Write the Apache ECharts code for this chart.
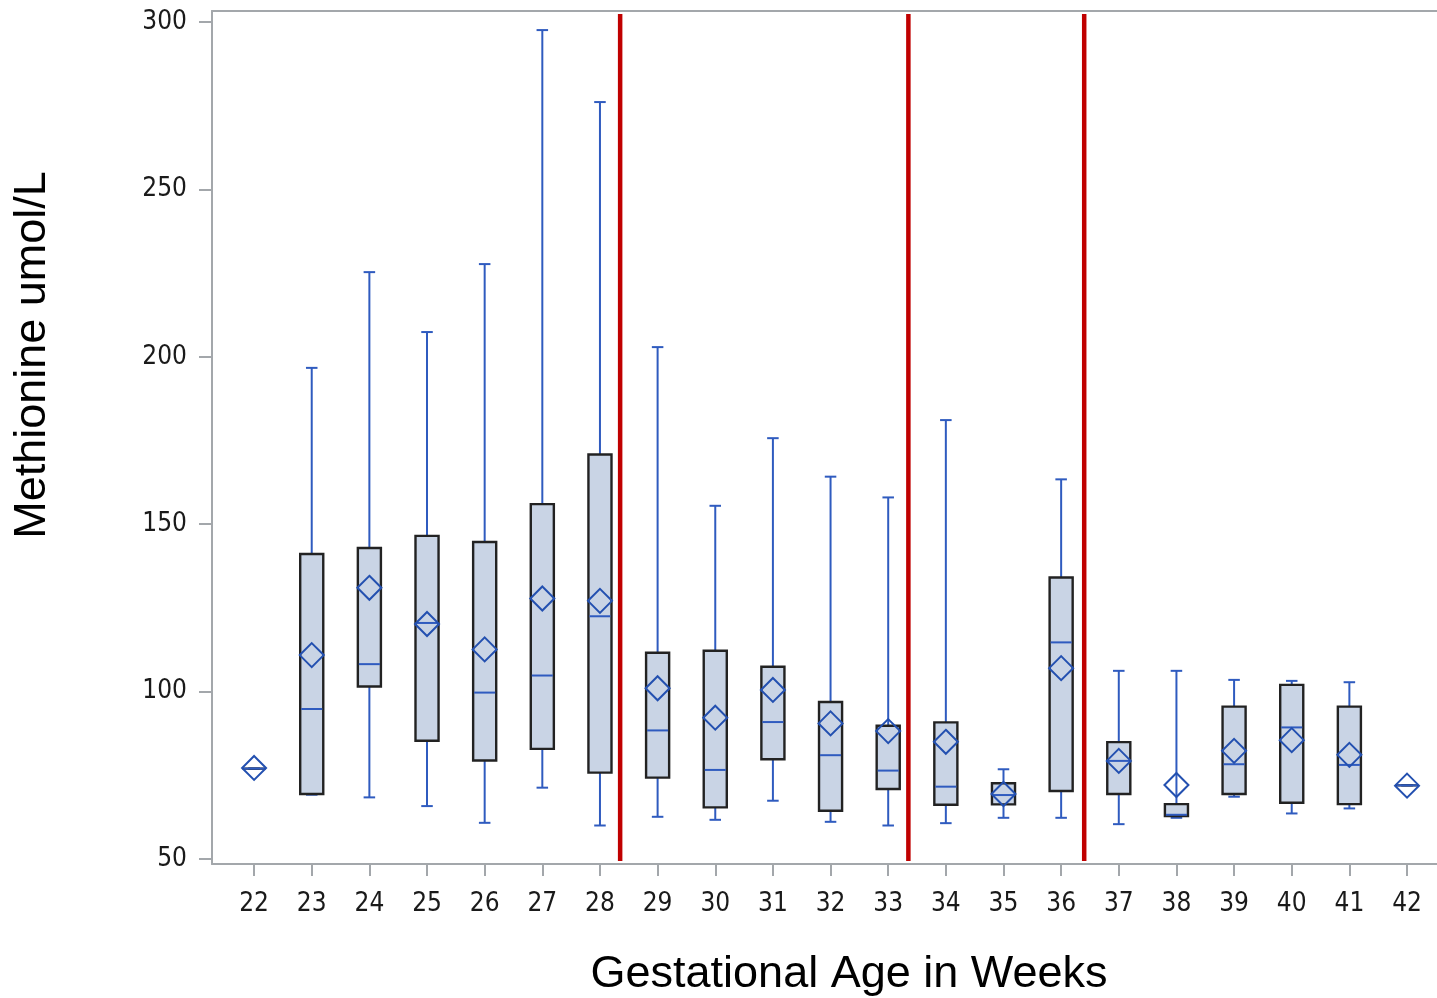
<!DOCTYPE html>
<html>
<head>
<meta charset="utf-8">
<script src="https://cdn.jsdelivr.net/npm/echarts@6/dist/echarts.min.js"></script>
<style>
html,body{margin:0;padding:0;background:#fff;}
#chart{width:1437px;height:998px;}
</style>
</head>
<body>
<div id="chart"></div>
<script>
const weeks       = [22, 23, 24, 25, 26, 27, 28, 29, 30, 31, 32, 33, 34, 35, 36, 37, 38, 39, 40, 41, 42];
const whiskerLow  = [77, 69.2, 68.4, 65.8, 60.8, 71.3, 60, 62.6, 61.7, 67.4, 61.1, 60, 60.7, 62.3, 62.3, 60.4, 62.3, 68.6, 63.6, 65.1, 72];
const q1          = [77, 69.4, 101.5, 85.3, 79.4, 82.9, 75.8, 74.3, 65.4, 79.8, 64.4, 70.9, 66.2, 66.3, 70.3, 69.4, 62.8, 69.4, 66.8, 66.4, 72];
const median      = [77, 94.8, 108.2, 120.5, 99.7, 104.8, 122.5, 88.4, 76.6, 90.9, 81, 76.4, 71.6, 69.1, 114.7, 79.3, 63.2, 78.3, 89.3, 78.1, 72];
const q3          = [77, 141.1, 142.9, 146.5, 144.7, 156, 170.8, 111.6, 112.2, 107.4, 96.9, 89.8, 90.8, 72.6, 134.1, 84.9, 66.4, 95.5, 102, 95.5, 72];
const whiskerHigh = [77, 196.7, 225.3, 207.4, 227.7, 297.6, 276.1, 202.9, 155.5, 175.7, 164.2, 158, 181.1, 76.8, 163.4, 106.2, 106.2, 103.5, 103.2, 102.8, 72];
const mean        = [77.2, 110.9, 131, 120.2, 112.6, 127.8, 127.1, 101, 92.2, 100.5, 90.5, 88.2, 85, 69.4, 107, 79.3, 72.1, 82.3, 85.5, 81.1, 71.9];
const yTicks      = [50, 100, 150, 200, 250, 300];
const dividers    = [28.35, 33.35, 36.4];

const boxData = weeks.map((w, i) => [w, whiskerLow[i], q1[i], median[i], q3[i], whiskerHigh[i], mean[i]]);
const dividerData = dividers.map(d => [d]);

const BLUE = '#2f5bbf';
const DIAMOND = '#2350b0';
const AXIS = '#a3a7ab';
const tickFont = '"DejaVu Sans Condensed", "DejaVu Sans", sans-serif';

const chart = echarts.init(document.getElementById('chart'), null, {renderer: 'canvas'});

function renderBox(params, api) {
  const x = api.value(0);
  const lo = api.coord([x, api.value(1)]);
  const b1 = api.coord([x, api.value(2)]);
  const md = api.coord([x, api.value(3)]);
  const b3 = api.coord([x, api.value(4)]);
  const hi = api.coord([x, api.value(5)]);
  const mn = api.coord([x, api.value(6)]);
  const bw = api.size([0.4, 0])[0];
  const cw = api.size([0.2, 0])[0];
  const d = 12;
  const cx = lo[0];
  const line = (x1, y1, x2, y2, color, w) => ({
    type: 'line', shape: {x1, y1, x2, y2},
    style: {stroke: color, lineWidth: w}
  });
  return {
    type: 'group',
    children: [
      line(cx, b3[1], cx, hi[1], BLUE, 2),
      line(cx, b1[1], cx, lo[1], BLUE, 2),
      line(cx - cw / 2, hi[1], cx + cw / 2, hi[1], BLUE, 2),
      line(cx - cw / 2, lo[1], cx + cw / 2, lo[1], BLUE, 2),
      {
        type: 'rect',
        shape: {x: cx - bw / 2, y: b3[1], width: bw, height: b1[1] - b3[1]},
        style: {fill: '#c9d4e5', stroke: '#222222', lineWidth: 2.4}
      },
      line(cx - bw / 2 + 1, md[1], cx + bw / 2 - 1, md[1], BLUE, 2),
      {
        type: 'polygon',
        shape: {points: [[cx, mn[1] - d], [cx + d, mn[1]], [cx, mn[1] + d], [cx - d, mn[1]]]},
        style: {fill: 'none', stroke: DIAMOND, lineWidth: 2}
      }
    ]
  };
}

function renderDivider(params, api) {
  const x = api.value(0);
  const top = api.coord([x, 302.4]);
  const bot = api.coord([x, 49.4]);
  return {
    type: 'line',
    shape: {x1: top[0], y1: top[1], x2: bot[0], y2: bot[1]},
    style: {stroke: '#c00000', lineWidth: 4.5}
  };
}

const option = {
  backgroundColor: '#ffffff',
  animation: false,
  grid: {left: 212, right: 0, top: 11, bottom: 134, containLabel: false},
  xAxis: [{
    type: 'value',
    min: 21.27,
    max: 42.52,
    splitLine: {show: false},
    axisLine: {show: true, lineStyle: {color: AXIS, width: 2}},
    axisTick: {show: true, length: 12, customValues: weeks, lineStyle: {color: AXIS, width: 2}},
    axisLabel: {show: true, customValues: weeks, margin: 27, color: '#1a1a1a', fontSize: 26, fontFamily: tickFont},
  }, {
    type: 'value',
    position: 'top',
    min: 21.27,
    max: 42.52,
    splitLine: {show: false},
    axisLine: {show: true, onZero: false, lineStyle: {color: AXIS, width: 2}},
    axisTick: {show: false},
    axisLabel: {show: false}
  }],
  yAxis: {
    type: 'value',
    min: 48.5,
    max: 303.3,
    splitLine: {show: false},
    axisLine: {show: true, lineStyle: {color: AXIS, width: 2}},
    axisTick: {show: true, length: 13, customValues: yTicks, lineStyle: {color: AXIS, width: 2}},
    axisLabel: {show: true, customValues: yTicks, margin: 25, color: '#1a1a1a', fontSize: 26, fontFamily: tickFont}
  },
  graphic: [
    {
      type: 'text',
      x: 33, y: 355,
      rotation: Math.PI / 2,
      style: {text: 'Methionine umol/L', fill: '#000', font: '45px "Liberation Sans", Arial, sans-serif', align: 'center', verticalAlign: 'middle'}
    },
    {
      type: 'text',
      x: 849, y: 975,
      style: {text: 'Gestational Age in Weeks', fill: '#000', font: '45px "Liberation Sans", Arial, sans-serif', align: 'center', verticalAlign: 'middle'}
    }
  ],
  series: [
    {
      type: 'custom',
      name: 'Methionine',
      renderItem: renderBox,
      encode: {x: 0, y: [1, 2, 3, 4, 5, 6]},
      data: boxData,
      z: 3
    },
    {
      type: 'custom',
      name: 'Dividers',
      renderItem: renderDivider,
      encode: {x: 0},
      data: dividerData,
      z: 4
    }
  ]
};
chart.setOption(option);
</script>
</body>
</html>
